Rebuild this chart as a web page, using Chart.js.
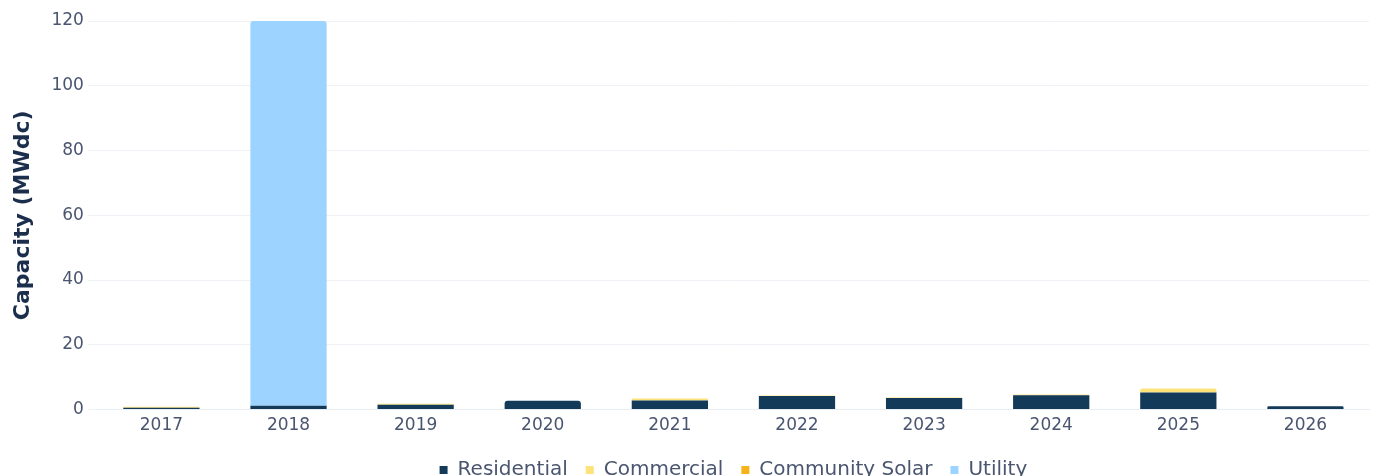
<!DOCTYPE html>
<html>
<head>
<meta charset="utf-8">
<script src="https://cdn.jsdelivr.net/npm/chart.js@4"></script>
<style>
html,body{margin:0;padding:0;background:#fff;overflow:hidden;}
#wrap{position:absolute;left:0;top:0;width:1373px;height:490px;}
</style>
</head>
<body>
<div id="wrap"><canvas id="c"></canvas></div>
<script>
const categories = ['2017','2018','2019','2020','2021','2022','2023','2024','2025','2026'];
const residential = [0.6, 1.2, 1.5, 2.7, 2.8, 4.2, 3.6, 4.4, 5.3, 1.0];
const commercial  = [0.3, 0, 0.3, 0, 0.6, 0.15, 0.1, 0.3, 1.2, 0];
const communitySolar = [0, 0, 0, 0, 0, 0, 0, 0, 0, 0];
const utility = [0, 118.8, 0, 0, 0, 0, 0, 0, 0, 0];
const yTicks = [0, 20, 40, 60, 80, 100, 120];

const FONT = "'DejaVu Sans', sans-serif";
const mk = (label, data, color) => ({label, data, backgroundColor: color, borderColor: color, borderWidth: 0, borderRadius: 3, borderSkipped: 'bottom', barPercentage: 0.75, categoryPercentage: 0.8});

new Chart(document.getElementById('c'), {
  type: 'bar',
  data: {
    labels: categories,
    datasets: [
      mk('Residential', residential, '#143a5a'),
      mk('Commercial', commercial, '#fde37a'),
      mk('Community Solar', communitySolar, '#f6b21b'),
      mk('Utility', utility, '#9dd3ff')
    ]
  },
  options: {
    responsive: true,
    maintainAspectRatio: false,
    animation: false,
    layout: {padding: {top: 21, right: 4, left: 10, bottom: 0}},
    plugins: {
      tooltip: {enabled: false},
      legend: {
        position: 'bottom',
        fullSize: false,
        labels: {
          usePointStyle: true, pointStyle: 'rect', boxWidth: 8, boxHeight: 8,
          padding: 18, color: '#4a5570', font: {family: FONT, size: 20}
        }
      }
    },
    scales: {
      x: {
        stacked: true,
        grid: {display: false, drawTicks: false},
        border: {display: true, color: '#e8edf4'},
        ticks: {color: '#4a5570', font: {family: FONT, size: 17}, padding: 6}
      },
      y: {
        stacked: true,
        min: 0, max: 120,
        afterBuildTicks: (s) => { s.ticks = yTicks.map(v => ({value: v})); },
        grid: {color: '#eef2f7', tickLength: 10},
        border: {display: false},
        ticks: {color: '#4a5570', font: {family: FONT, size: 17}, padding: 4},
        title: {display: true, text: 'Capacity (MWdc)', color: '#1b2f4d', font: {family: FONT, size: 22, weight: 'bold'}, padding: {top: 0, bottom: 11}}
      }
    }
  }
});
</script>
</body>
</html>
